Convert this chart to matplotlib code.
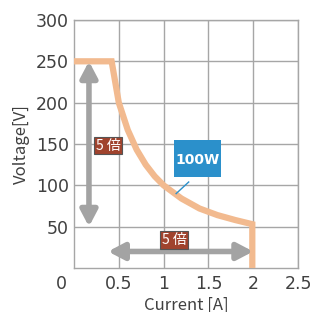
# plot.py - constant power output range chart (100W)

import matplotlib
matplotlib.use('Agg')
import matplotlib.pyplot as plt
from matplotlib.patches import FancyArrowPatch, Rectangle

# data
current = [0.0, 0.42, 0.5, 0.6, 0.7, 0.8, 0.9, 1.0, 1.2, 1.4, 1.6, 1.8, 1.99, 1.99]
voltage = [250, 250, 200, 167, 143, 125, 111, 100, 84, 72, 64, 58, 53, 0]

x_ticks = [0.5, 1, 1.5, 2, 2.5]
x_tick_labels = ['0.5', '1', '1.5', '2', '2.5']
y_ticks = [50, 100, 150, 200, 250, 300]
y_tick_labels = ['50', '100', '150', '200', '250', '300']

v_arrow = [(0.167, 50), (0.167, 250)]
h_arrow = [(0.38, 20), (2.0, 20)]
ratio_text = '5 倍'
ratio_pos = [(0.383, 148), (1.117, 34)]
power_text = '100W'
power_box = (1.12, 110, 0.52, 45)
power_leader = [(1.28, 104), (1.14, 90)]

grid_c = '#A6A6A6'
text_c = '#404040'
curve_c = '#F2BA8F'
arrow_c = '#A3A3A3'
cjk = ['Noto Sans CJK JP', 'DejaVu Sans']

plt.rcParams['font.family'] = ['DejaVu Sans', 'Noto Sans CJK JP']

fig = plt.figure(figsize=(3.10, 3.12), dpi=100)
ax = fig.add_axes([0.2387, 0.141, 0.7226, 0.795])

ax.set_xlim(0, 2.5)
ax.set_ylim(0, 300)
ax.set_xticks(x_ticks)
ax.set_xticklabels(x_tick_labels)
ax.set_yticks(y_ticks)
ax.set_yticklabels(y_tick_labels)
ax.tick_params(length=0, labelsize=12.5, colors=text_c)
ax.tick_params(axis='x', pad=5)
ax.tick_params(axis='y', pad=3.6)
ax.grid(True, color=grid_c, lw=1)
ax.set_axisbelow(True)
for s in ax.spines.values():
    s.set_color(grid_c)
    s.set_linewidth(1)

# origin label sits left of the corner
ax.annotate('0', xy=(0, 0), xycoords='data', xytext=(-9, -5),
            textcoords='offset points', ha='center', va='top',
            fontsize=12.5, color=text_c)

ax.set_xlabel('Current [A]', fontsize=12, color=text_c, family=cjk, labelpad=3)
ax.set_ylabel('Voltage[V]', fontsize=12, color=text_c, family=cjk, labelpad=4)

# power curve
ax.plot(current, voltage, color=curve_c, lw=4.5, solid_joinstyle='miter', zorder=3)

# 5x arrows
for a, b in (v_arrow, h_arrow):
    arr = FancyArrowPatch(a, b, arrowstyle='<|-|>,head_length=0.95,head_width=0.5',
                          mutation_scale=10, lw=4, color=arrow_c,
                          shrinkA=0, shrinkB=0, zorder=4)
    ax.add_patch(arr)

for x, y in ratio_pos:
    ax.text(x, y, ratio_text, ha='center', va='center', fontsize=10, color='white',
            family=cjk, zorder=6,
            bbox=dict(boxstyle='square,pad=0.12', fc='#A0432D', ec='#555555', lw=0.8))

# 100W callout
bx, by, bw, bh = power_box
ax.add_patch(Rectangle((bx, by), bw, bh, fc='#2B90CB', ec='none', zorder=6))
ax.text(bx + bw / 2, by + bh / 2 - 1.5, power_text, ha='center', va='center',
        fontsize=10, fontweight='bold', color='white', zorder=7)
ax.plot([p[0] for p in power_leader], [p[1] for p in power_leader],
        color='#2B90CB', lw=1, zorder=6)

plt.savefig('out.png', dpi=100)
